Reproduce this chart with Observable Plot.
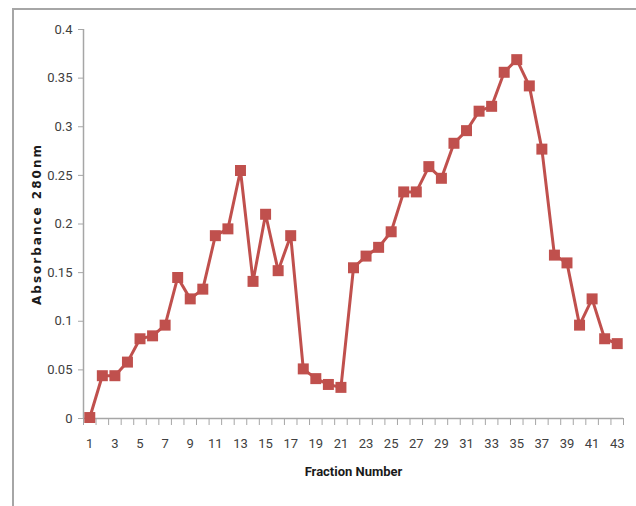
<!DOCTYPE html>
<html>
<head>
<meta charset="utf-8">
<script src="https://cdn.jsdelivr.net/npm/d3@7"></script>
<script src="https://cdn.jsdelivr.net/npm/@observablehq/plot@0.6"></script>
<style>
  html, body { margin: 0; padding: 0; background: #fff; }
  #wrap { position: relative; width: 636px; height: 506px; overflow: hidden; }
  #border { position: absolute; left: 12px; top: 8px; width: 700px; height: 600px;
            border-top: 2px solid #a6a6a6; border-left: 2px solid #a6a6a6; pointer-events: none; }
  #chart { position: absolute; left: 0; top: 0; }
  g[aria-description="ytitle"] text { letter-spacing: 2px; }
</style>
</head>
<body>
<div id="wrap">
  <div id="chart"></div>
  <div id="border"></div>
</div>
<script>
// Data
const fractions = [1,2,3,4,5,6,7,8,9,10,11,12,13,14,15,16,17,18,19,20,21,22,23,24,25,26,27,28,29,30,31,32,33,34,35,36,37,38,39,40,41,42,43];
const absorbance = [0.001,0.044,0.044,0.058,0.082,0.085,0.096,0.145,0.123,0.133,0.188,0.195,0.255,0.141,0.210,0.152,0.188,0.051,0.041,0.035,0.032,0.155,0.167,0.176,0.192,0.233,0.233,0.259,0.247,0.283,0.296,0.316,0.321,0.356,0.369,0.342,0.277,0.168,0.160,0.096,0.123,0.082,0.077];

// Tick labels
const yTicks = [0, 0.05, 0.1, 0.15, 0.2, 0.25, 0.3, 0.35, 0.4];
const yTickLabels = ["0", "0.05", "0.1", "0.15", "0.2", "0.25", "0.3", "0.35", "0.4"];
const xTickLabels = [1,3,5,7,9,11,13,15,17,19,21,23,25,27,29,31,33,35,37,39,41,43];
const xTitle = "Fraction Number";
const yTitle = "Absorbance 280nm";

const data = fractions.map((f, i) => ({fraction: f, value: absorbance[i]}));
// category boundaries (Excel-style ticks between categories)
const xBoundaries = [...fractions.map(f => f - 0.5), fractions[fractions.length - 1] + 0.5];

const red = "#c0504d";
const axisGrey = "#a6a6a6";
const fontFam = "'Liberation Sans Narrow', Roboto, 'Liberation Sans', sans-serif";

const chart = Plot.plot({
  width: 636,
  height: 506,
  marginLeft: 83,
  marginRight: 13,
  marginTop: 29,
  marginBottom: 88,
  style: {fontFamily: fontFam, fontSize: "12px", color: "#404040", background: "transparent"},
  x: {type: "linear", domain: [0.5, 43.5]},
  y: {type: "linear", domain: [0, 0.4]},
  marks: [
    Plot.axisY({ticks: yTicks, tickFormat: d => yTickLabels[yTicks.indexOf(d)], tickSize: 5, tickPadding: 6, stroke: axisGrey, label: null, fontSize: 13, fill: "#404040"}),
    Plot.axisX({ticks: xBoundaries, tickFormat: () => "", tickSize: 7, stroke: axisGrey, label: null}),
    Plot.axisX({ticks: xTickLabels, tickSize: 0, tickPadding: 20, label: null, fontSize: 13, fill: "#404040"}),
    Plot.ruleX([0.5], {stroke: axisGrey, strokeWidth: 1.5}),
    Plot.ruleY([0], {stroke: axisGrey, strokeWidth: 1.5}),
    Plot.line(data, {x: "fraction", y: "value", stroke: red, strokeWidth: 3}),
    Plot.dot(data, {x: "fraction", y: "value", symbol: "square", r: 6.2, fill: red, stroke: "none"}),
    Plot.text([xTitle], {frameAnchor: "bottom", dy: 57, text: d => d, fontWeight: "bold", fontSize: 13, fill: "#1a1a1a"}),
    Plot.text([yTitle], {frameAnchor: "left", dx: -46, rotate: -90, textAnchor: "middle", text: d => d, fontWeight: "bold", fontSize: 12, fill: "#1a1a1a", ariaDescription: "ytitle", fontFamily: "'DejaVu Sans', sans-serif"})
  ]
});
document.getElementById("chart").appendChild(chart);
</script>
</body>
</html>
